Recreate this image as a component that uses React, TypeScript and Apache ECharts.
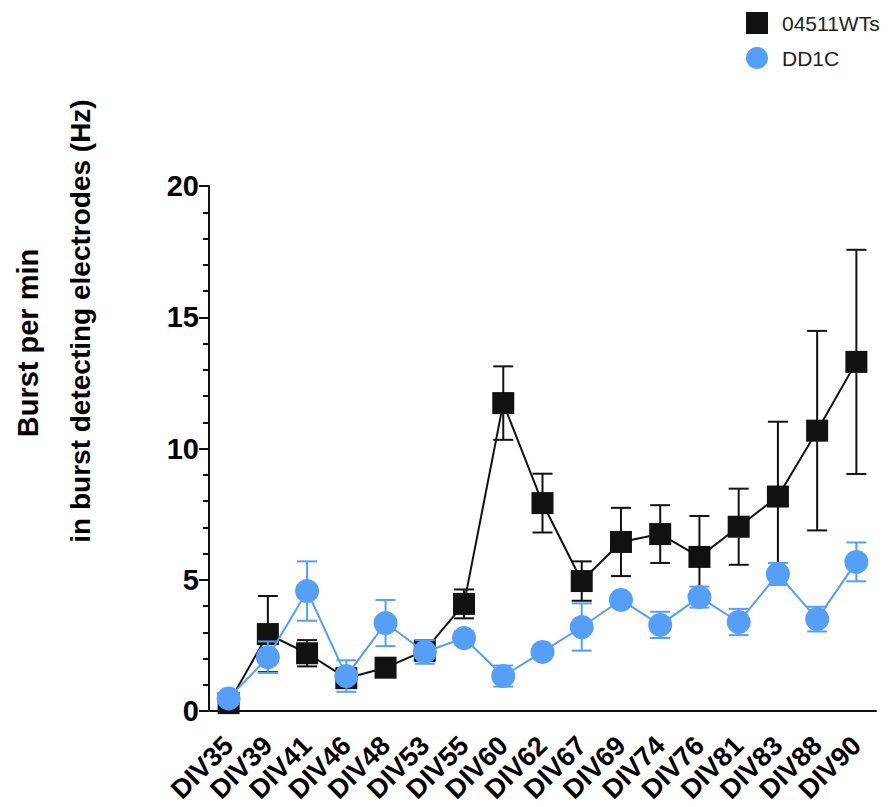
import React, { useEffect, useRef } from "react";
import * as echarts from "echarts";

const categories = ["DIV35", "DIV39", "DIV41", "DIV46", "DIV48", "DIV53", "DIV55", "DIV60", "DIV62", "DIV67", "DIV69", "DIV74", "DIV76", "DIV81", "DIV83", "DIV88", "DIV90"];
const wtMean = [0.3, 2.93, 2.2, 1.25, 1.65, 2.3, 4.08, 11.73, 7.92, 4.95, 6.44, 6.74, 5.87, 7.02, 8.17, 10.68, 13.3];
const wtErr = [0.15, 1.45, 0.5, 0.35, 0.2, 0.4, 0.55, 1.4, 1.12, 0.75, 1.3, 1.1, 1.56, 1.45, 2.85, 3.8, 4.27];
const ddMean = [0.48, 2.05, 4.57, 1.33, 3.35, 2.25, 2.78, 1.33, 2.25, 3.2, 4.23, 3.28, 4.34, 3.39, 5.22, 3.5, 5.68];
const ddErr = [0.2, 0.6, 1.13, 0.6, 0.88, 0.45, 0.25, 0.4, 0.2, 0.9, 0.2, 0.5, 0.4, 0.5, 0.42, 0.47, 0.74];
const yTicks = [0, 5, 10, 15, 20];
const seriesNames = ["04511WTs", "DD1C"];

const BLACK = "#111111";
const BLUE = "#559ff7";
const FONT = '"Liberation Sans", Arial, sans-serif';

function errorSeries(mean: number[], err: number[], color: string, z: number) {
  return {
    type: "custom",
    name: "err-" + color,
    z,
    silent: true,
    data: mean.map((m, i) => [i, m - err[i], m + err[i]]),
    renderItem: (params: any, api: any) => {
      const x = api.value(0);
      const pLo = api.coord([x, api.value(1)]);
      const pHi = api.coord([x, api.value(2)]);
      const hw = 10;
      const style = { stroke: color, lineWidth: 2 };
      return {
        type: "group",
        children: [
          { type: "line", shape: { x1: pHi[0], y1: pHi[1], x2: pLo[0], y2: pLo[1] }, style },
          { type: "line", shape: { x1: pHi[0] - hw, y1: pHi[1], x2: pHi[0] + hw, y2: pHi[1] }, style },
          { type: "line", shape: { x1: pLo[0] - hw, y1: pLo[1], x2: pLo[0] + hw, y2: pLo[1] }, style },
        ],
      };
    },
  };
}

export default function App() {
  const ref = useRef<HTMLDivElement>(null);
  useEffect(() => {
    if (!ref.current) return;
    const chart = echarts.init(ref.current, undefined, { renderer: "svg" });
    chart.setOption({
      animation: false,
      backgroundColor: "#ffffff",
      textStyle: { fontFamily: FONT },
      legend: {
        orient: "vertical",
        left: 746,
        top: 12,
        padding: 0,
        itemWidth: 22,
        itemHeight: 22,
        itemGap: 13,
        selectedMode: false,
        textStyle: { fontSize: 21, color: "#222", fontFamily: FONT, padding: [0, 0, 0, 9] },
        data: [
          { name: seriesNames[0], icon: "rect" },
          { name: seriesNames[1], icon: "circle" },
        ],
      },
      grid: { left: 209, right: 15, top: 186, bottom: 96, containLabel: false },
      xAxis: {
        type: "category",
        data: categories,
        boundaryGap: true,
        axisLine: { lineStyle: { color: BLACK, width: 2 } },
        axisTick: { alignWithLabel: true, length: 8, lineStyle: { color: BLACK, width: 2 } },
        axisLabel: {
          rotate: 45,
          interval: 0,
          margin: 30,
          fontSize: 27,
          fontWeight: "bold",
          color: "#000",
          fontFamily: FONT,
        },
      },
      yAxis: {
        type: "value",
        min: yTicks[0],
        max: yTicks[yTicks.length - 1],
        interval: 5,
        axisLine: { show: true, lineStyle: { color: BLACK, width: 2 } },
        axisTick: { show: true, length: 10, lineStyle: { color: BLACK, width: 2 } },
        minorTick: { show: true, splitNumber: 5, length: 6, lineStyle: { color: BLACK, width: 2 } },
        splitLine: { show: false },
        axisLabel: { fontSize: 29, fontWeight: "bold", color: "#000", margin: 10, fontFamily: FONT },
      },
      graphic: [
        {
          type: "text",
          x: 28,
          y: 343,
          rotation: Math.PI / 2,
          style: { text: "Burst per min", font: `bold 29px ${FONT}`, fill: "#000", textAlign: "center", textVerticalAlign: "middle" },
        },
        {
          type: "text",
          x: 80,
          y: 321,
          rotation: Math.PI / 2,
          style: { text: "in burst detecting electrodes (Hz)", font: `bold 28px ${FONT}`, fill: "#000", textAlign: "center", textVerticalAlign: "middle" },
        },
      ],
      series: [
        errorSeries(wtMean, wtErr, BLACK, 1),
        {
          type: "line",
          name: seriesNames[0],
          data: wtMean,
          z: 2,
          symbol: "rect",
          symbolSize: 22,
          lineStyle: { color: BLACK, width: 2 },
          itemStyle: { color: BLACK },
        },
        errorSeries(ddMean, ddErr, BLUE, 3),
        {
          type: "line",
          name: seriesNames[1],
          data: ddMean,
          z: 4,
          symbol: "circle",
          symbolSize: 24,
          lineStyle: { color: BLUE, width: 2 },
          itemStyle: { color: BLUE },
        },
      ],
    });
    return () => chart.dispose();
  }, []);
  return <div ref={ref} style={{ position: "fixed", left: 0, top: 0, width: 891, height: 807 }} />;
}
